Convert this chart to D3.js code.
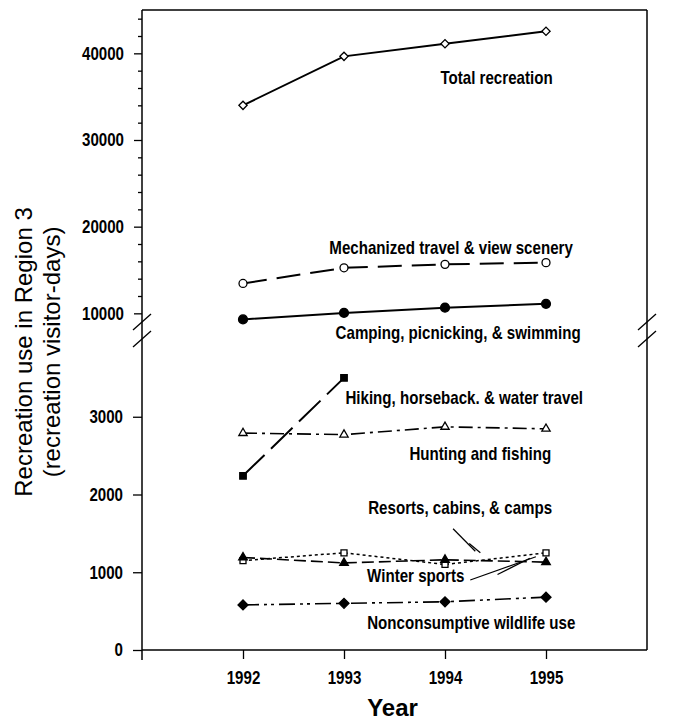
<!DOCTYPE html>
<html>
<head>
<meta charset="utf-8">
<script src="https://cdn.jsdelivr.net/npm/d3@7"></script>
<style>
    body { margin: 0; background: #fff; }
    svg text.narrow { font-family: "Liberation Sans", Arial, sans-serif; font-weight: bold; }
    svg text.title { font-family: "Liberation Sans", Arial, sans-serif; }
</style>
</head>
<body>
<div id="chart_parent"></div>
<script>
// values (recreation visitor-days)
const years = [1992, 1993, 1994, 1995];
const totalRecreation = [34000, 39650, 41100, 42550];
const mechanizedTravel = [13450, 15250, 15650, 15850];
const camping = [9300, 10050, 10650, 11100];
const hikingYears = [1992, 1993];
const hiking = [2240, 3500];
const hunting = [2790, 2770, 2870, 2845];
const resorts = [1150, 1250, 1100, 1250];
const winterSports = [1190, 1120, 1160, 1130];
const nonconsumptive = [580, 600, 620, 680];

const upperTickValues = [10000, 20000, 30000, 40000];
const upperMinorTickValues = [12000, 14000, 16000, 18000, 22000, 24000, 26000, 28000,
    32000, 34000, 36000, 38000, 42000, 44000];
const lowerTickValues = [0, 1000, 2000, 3000];
const yearTickValues = [1992, 1993, 1994, 1995];

const chartConfig = {
    outerWidth: 677,
    outerHeight: 724,
    plotLeft: 142,
    plotRight: 647,
    plotTop: 10,
    upperBottom: 322, // where the upper panel stops (axis break)
    lowerTop: 339,
    plotBottom: 650,
    yearDomain: [1991, 1996],
    upperDomain: [9000, 45000],
    lowerDomain: [0, 4000],
    narrowScale: 0.84, // the original uses a condensed bold face
};

const seriesList = [
    { name: 'Total recreation', x: years, y: totalRecreation, panel: 'upper',
      dash: null, width: 2, symbol: 'diamond', size: 34, filled: false },
    { name: 'Mechanized travel & view scenery', x: years, y: mechanizedTravel, panel: 'upper',
      dash: '24,10', width: 2, symbol: 'circle', size: 50, filled: false },
    { name: 'Camping, picnicking, & swimming', x: years, y: camping, panel: 'upper',
      dash: null, width: 2, symbol: 'circle', size: 62, filled: true },
    { name: 'Hiking, horseback. & water travel', x: hikingYears, y: hiking, panel: 'lower',
      dash: '30,9', width: 2, symbol: 'square', size: 42, filled: true },
    { name: 'Hunting and fishing', x: years, y: hunting, panel: 'lower',
      dash: '14,5,3,5', width: 1.6, symbol: 'triangle', size: 30, filled: false },
    { name: 'Resorts, cabins, & camps', x: years, y: resorts, panel: 'lower',
      dash: '3,3', width: 1.5, symbol: 'square', size: 36, filled: false },
    { name: 'Winter sports', x: years, y: winterSports, panel: 'lower',
      dash: '12,5', width: 1.6, symbol: 'triangle', size: 32, filled: true },
    { name: 'Nonconsumptive wildlife use', x: years, y: nonconsumptive, panel: 'lower',
      dash: '16,5,3,4,3,5', width: 1.6, symbol: 'diamond', size: 50, filled: true },
];

// label anchors in data space (year, value) for the panel they sit in
const labelPlacement = [
    { text: 'Total recreation', year: 1994.51, value: 37150, panel: 'upper' },
    { text: 'Mechanized travel & view scenery', year: 1994.06, value: 17540, panel: 'upper' },
    { text: 'Camping, picnicking, & swimming', year: 1994.13, value: 7730, panel: 'upper' },
    { text: 'Hiking, horseback. & water travel', year: 1994.19, value: 3240, panel: 'lower' },
    { text: 'Hunting and fishing', year: 1994.35, value: 2530, panel: 'lower' },
    { text: 'Resorts, cabins, & camps', year: 1994.15, value: 1830, panel: 'lower' },
    { text: 'Winter sports', year: 1993.71, value: 960, panel: 'lower' },
    { text: 'Nonconsumptive wildlife use', year: 1994.26, value: 350, panel: 'lower' },
];

const leaderLines = [
    [[1994.08, 1560], [1994.30, 1270]],
    [[1994.24, 1370], [1994.35, 1250]],
    [[1994.25, 900], [1994.90, 1200]],
    [[1994.52, 970], [1994.84, 1180]],
];

function initialiseChartElements(rootSelector, config) {
    const svg = d3.select(rootSelector).append('svg')
        .attr('width', config.outerWidth)
        .attr('height', config.outerHeight);

    return {
        svg,
        frameGroup: svg.append('g').attr('class', 'frame'),
        axisGroup: svg.append('g').attr('class', 'axes'),
        seriesGroup: svg.append('g').attr('class', 'series'),
        labelGroup: svg.append('g').attr('class', 'labels'),
    };
}

function buildScales(config) {
    return {
        x: d3.scaleLinear().domain(config.yearDomain).range([config.plotLeft, config.plotRight]),
        upper: d3.scaleLinear().domain(config.upperDomain).range([config.upperBottom, config.plotTop]),
        lower: d3.scaleLinear().domain(config.lowerDomain).range([config.plotBottom, config.lowerTop]),
    };
}

// squeeze axis text horizontally around its own anchor
function narrowText(selection, config) {
    selection.each(function () {
        const t = d3.select(this);
        const x = +t.attr('x') || 0;
        t.attr('transform', function () {
            const base = d3.select(this).attr('transform') || '';
            return `${base} translate(${x},0) scale(${config.narrowScale},1) translate(${-x},0)`;
        });
    });
}

function styleAxis(g, config) {
    g.select('.domain').remove();
    g.selectAll('line').attr('stroke', '#000').attr('stroke-width', 1.3);
    g.selectAll('text')
        .attr('class', 'narrow')
        .attr('font-size', 18)
        .attr('fill', '#000')
        .call(narrowText, config);
}

function drawAxes(config, elements, scales) {
    const { frameGroup, axisGroup } = elements;

    axisGroup.append('g')
        .attr('transform', `translate(${config.plotLeft},0)`)
        .call(d3.axisLeft(scales.upper).tickValues(upperMinorTickValues).tickSize(4).tickFormat(''))
        .call(styleAxis, config);

    axisGroup.append('g')
        .attr('transform', `translate(${config.plotLeft},0)`)
        .call(d3.axisLeft(scales.upper).tickValues(upperTickValues).tickSize(8).tickPadding(10)
            .tickFormat(d3.format('d')))
        .call(styleAxis, config);

    axisGroup.append('g')
        .attr('transform', `translate(${config.plotLeft},0)`)
        .call(d3.axisLeft(scales.lower).tickValues(lowerTickValues).tickSize(9).tickPadding(10)
            .tickFormat(d3.format('d')))
        .call(styleAxis, config);

    axisGroup.append('g')
        .attr('transform', `translate(0,${config.plotBottom})`)
        .call(d3.axisBottom(scales.x).tickValues(yearTickValues).tickSize(9).tickPadding(12)
            .tickFormat(d3.format('d')))
        .call(styleAxis, config);

    // frame: left axis runs a little below the x axis, as in the original
    const frame = [
        [config.plotLeft, config.plotTop, config.plotLeft, config.plotBottom + 10],
        [config.plotLeft, config.plotTop, config.plotRight, config.plotTop],
        [config.plotRight, config.plotTop, config.plotRight, config.plotBottom],
        [config.plotLeft, config.plotBottom, config.plotRight, config.plotBottom],
    ];
    frameGroup.selectAll('line.edge')
        .data(frame)
        .join('line')
        .attr('class', 'edge')
        .attr('x1', d => d[0]).attr('y1', d => d[1])
        .attr('x2', d => d[2]).attr('y2', d => d[3])
        .attr('stroke', '#000')
        .attr('stroke-width', 1.5);

    // axis break marks on both sides
    const breaks = [];
    [config.plotLeft, config.plotRight].forEach(x => {
        [config.upperBottom, config.lowerTop].forEach(y => breaks.push([x, y]));
    });
    frameGroup.selectAll('line.break')
        .data(breaks)
        .join('line')
        .attr('class', 'break')
        .attr('x1', d => d[0] - 9).attr('y1', d => d[1] + 8)
        .attr('x2', d => d[0] + 9).attr('y2', d => d[1] - 8)
        .attr('stroke', '#000')
        .attr('stroke-width', 1.3);

    elements.svg.append('text')
        .attr('class', 'title')
        .attr('x', (config.plotLeft + config.plotRight) / 2 - 2)
        .attr('y', 716)
        .attr('text-anchor', 'middle')
        .attr('font-size', 24)
        .attr('font-weight', 'bold')
        .text('Year');

    const yTitle = elements.svg.append('text')
        .attr('class', 'title')
        .attr('transform', 'translate(32,352) rotate(-90)')
        .attr('text-anchor', 'middle')
        .attr('font-size', 24);
    yTitle.append('tspan').attr('x', 0).attr('dy', 0).text('Recreation use in Region 3');
    yTitle.append('tspan').attr('x', 0).attr('dy', 28).text('(recreation visitor-days)');
}

function symbolFor(name, size) {
    const types = {
        diamond: d3.symbolSquare,
        circle: d3.symbolCircle,
        square: d3.symbolSquare,
        triangle: d3.symbolTriangle,
    };
    return d3.symbol().type(types[name]).size(size)();
}

function drawSeries(config, elements, scales) {
    const { seriesGroup } = elements;

    seriesList.forEach(series => {
        const yScale = scales[series.panel];
        const points = series.x.map((year, i) => [year, series.y[i]]);
        const line = d3.line()
            .x(d => scales.x(d[0]))
            .y(d => yScale(d[1]));

        seriesGroup.append('path')
            .datum(points)
            .attr('d', line)
            .attr('fill', 'none')
            .attr('stroke', '#000')
            .attr('stroke-width', series.width)
            .attr('stroke-dasharray', series.dash);

        seriesGroup.selectAll(null)
            .data(points)
            .join('path')
            .attr('d', symbolFor(series.symbol, series.size))
            .attr('transform', d => {
                const rot = series.symbol === 'diamond' ? ' rotate(45)' : '';
                return `translate(${scales.x(d[0])},${yScale(d[1])})${rot}`;
            })
            .attr('fill', series.filled ? '#000' : '#fff')
            .attr('stroke', '#000')
            .attr('stroke-width', 1.3);
    });
}

function drawLabels(config, elements, scales) {
    const { labelGroup } = elements;

    labelGroup.selectAll('text')
        .data(labelPlacement)
        .join('text')
        .attr('class', 'narrow')
        .attr('transform', d =>
            `translate(${scales.x(d.year)},${scales[d.panel](d.value)}) scale(${config.narrowScale},1)`)
        .attr('dy', '0.35em')
        .attr('text-anchor', 'middle')
        .attr('font-size', 18)
        .text(d => d.text);

    labelGroup.selectAll('line')
        .data(leaderLines)
        .join('line')
        .attr('x1', d => scales.x(d[0][0])).attr('y1', d => scales.lower(d[0][1]))
        .attr('x2', d => scales.x(d[1][0])).attr('y2', d => scales.lower(d[1][1]))
        .attr('stroke', '#000')
        .attr('stroke-width', 1.2);
}

const chartElements = initialiseChartElements('#chart_parent', chartConfig);
const chartScales = buildScales(chartConfig);

drawAxes(chartConfig, chartElements, chartScales);
drawSeries(chartConfig, chartElements, chartScales);
drawLabels(chartConfig, chartElements, chartScales);
</script>
</body>
</html>
